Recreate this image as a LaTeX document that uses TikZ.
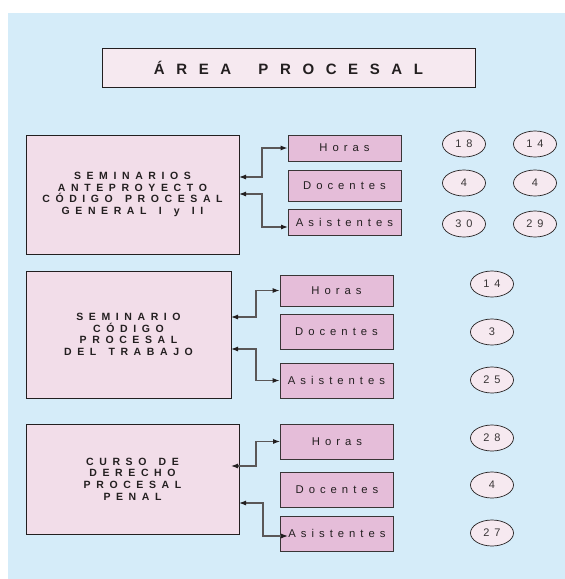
\documentclass[tikz,border=0pt]{standalone}
\usepackage{fontspec}
\setmainfont{Liberation Sans}
\usepackage{tikz}
\usetikzlibrary{positioning,calc}
\usetikzlibrary{arrows.meta,shapes.geometric}
\definecolor{SkyBack}{RGB}{213,236,249}
\definecolor{PaleRose}{RGB}{242,221,233}
\definecolor{MidRose}{RGB}{229,189,217}
\definecolor{LightRose}{RGB}{246,233,240}
\definecolor{InkGray}{RGB}{35,31,32}
% spaced capitals: every token followed by a kern
\makeatletter
\newcommand{\spread}[2]{\def\spread@k{#1}\@tfor\spread@c:=#2\do{\spread@c\kern\spread@k\relax}\unkern}
\makeatother
\newcommand{\tgap}{\hspace{4pt}}
\newcommand{\cgap}{\hspace{1pt}}
\newcommand{\crs}[1]{\spread{5.6pt}{#1}}
\newcommand{\tb}[1]{\spread{5pt}{#1}}
\newcommand{\nm}[1]{\spread{5pt}{#1}}
\tikzset{
	titlebox/.style={draw=InkGray,fill=LightRose,line width=0.8pt,minimum width=373pt,minimum height=39pt,
		text=InkGray,font=\fontsize{15}{15}\selectfont\bfseries},
	course/.style={draw=InkGray,fill=PaleRose,line width=0.8pt,align=center,text=InkGray,
		font=\fontsize{10.5}{11.6}\selectfont\bfseries},
	tab/.style={draw=InkGray!90,fill=MidRose,line width=0.8pt,minimum width=113pt,text=InkGray,
		font=\fontsize{11.3}{11.3}\selectfont},
	num/.style={ellipse,draw=InkGray,fill=LightRose,line width=0.7pt,minimum width=43pt,minimum height=26pt,
		inner sep=0pt,text=InkGray!90,font=\fontsize{11}{11}\selectfont},
	link/.style={draw=InkGray!75,line width=1.1pt,{Latex[length=7pt,width=5pt,color=InkGray]}-{Latex[length=7pt,width=5pt,color=InkGray]}},
}
\begin{document}
\begin{tikzpicture}[x=1pt,y=-1pt]
	\useasboundingbox (0,0) rectangle (565,579);
	\fill[SkyBack] (8,13) rectangle (565,579);
	\node[titlebox] (area) at (288.5,67.5) {\spread{11.6pt}{ÁREA\tgap PROCESAL}};
	% seminarios anteproyecto
	\node[course,minimum width=213pt,minimum height=119pt] (sem1) at (132.5,194.5)
		{\crs{SEMINARIOS}\\\crs{ANTEPROYECTO}\\\crs{CÓDIGO\cgap PROCESAL}\\\crs{GENERAL\cgap I\cgap y\cgap II}};
	\node[tab,minimum height=26pt] (h1) at (344.5,148) {\tb{Horas}};
	\node[tab,minimum height=31pt] (d1) at (344.5,185.5) {\tb{Docentes}};
	\node[tab,minimum height=26pt] (a1) at (344.5,222) {\tb{Asistentes}};
	\coordinate (p1) at (239,177);
	\coordinate (q1) at (239,194);
	\coordinate (r1) at (288,227);
	\draw[link] (p1) -- ++(23,0) |- (h1.west);
	\draw[link] (q1) -- ++(23,0) |- (r1);
	\node[num] (h1a) at (464,144) {\nm{18}};
	\node[num] (h1b) at (535,144) {\nm{14}};
	\node[num] (d1a) at (464,183) {4};
	\node[num] (d1b) at (535,183) {4};
	\node[num] (a1a) at (464,224) {\nm{30}};
	\node[num] (a1b) at (535,224) {\nm{29}};
	% seminario trabajo
	\node[course,minimum width=205pt,minimum height=127pt] (sem2) at (128.5,334.5)
		{\crs{SEMINARIO}\\\crs{CÓDIGO}\\\crs{PROCESAL}\\\crs{DEL\cgap TRABAJO}};
	\node[tab,minimum height=31pt] (h2) at (336.5,290.5) {\tb{Horas}};
	\node[tab,minimum height=35pt] (d2) at (336.5,331.5) {\tb{Docentes}};
	\node[tab,minimum height=35pt] (a2) at (336.5,380.5) {\tb{Asistentes}};
	\coordinate (p2) at (231,317);
	\coordinate (q2) at (231,349);
	\draw[link] (p2) -- ++(25,0) |- (h2.west);
	\draw[link] (q2) -- ++(25,0) |- (a2.west);
	\node[num] (h2a) at (492,284) {\nm{14}};
	\node[num] (d2a) at (492,332) {3};
	\node[num] (a2a) at (492,380) {\nm{25}};
	% curso penal
	\node[course,minimum width=213pt,minimum height=110pt] (cur3) at (132.5,479)
		{\crs{CURSO\cgap DE}\\\crs{DERECHO}\\\crs{PROCESAL}\\\crs{PENAL}};
	\node[tab,minimum height=35pt] (h3) at (337,441.5) {\tb{Horas}};
	\node[tab,minimum height=35pt] (d3) at (337,489.5) {\tb{Docentes}};
	\node[tab,minimum height=35pt] (a3) at (337,533.5) {\tb{Asistentes}};
	\coordinate (p3) at (231,466);
	\coordinate (q3) at (239,503);
	\coordinate (r3) at (288,536);
	\draw[link] (p3) -- ++(25,0) |- (h3.west);
	\draw[link] (q3) -- ++(24,0) |- (r3);
	\node[num] (h3a) at (492,438) {\nm{28}};
	\node[num] (d3a) at (492,485) {4};
	\node[num] (a3a) at (492,533) {\nm{27}};
\end{tikzpicture}
\end{document}
